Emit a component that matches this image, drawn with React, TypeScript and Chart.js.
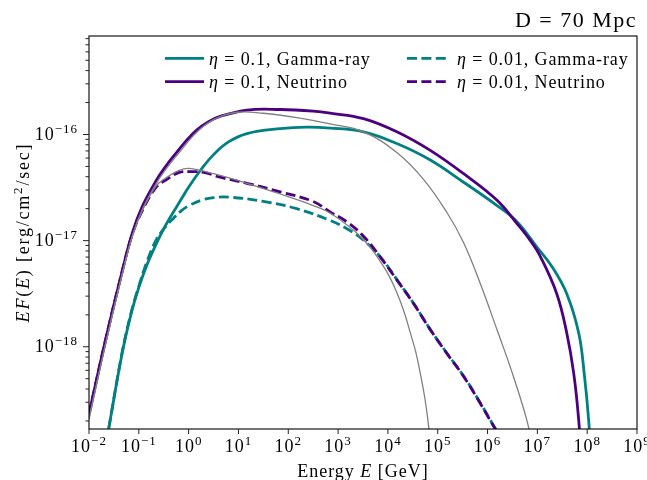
import React, { useEffect, useRef } from 'react';
import { Chart, registerables } from 'chart.js';

Chart.register(...registerables);

// ---------- data (energies in GeV, E F(E) in erg/cm^2/sec) ----------
const gammaHighE = [0.02, 0.0251, 0.0468, 0.0708, 0.1, 0.148, 0.219, 0.316, 0.468, 0.708, 1.02, 1.78, 3.16, 6.31, 14.8, 69, 229, 692, 3240, 1.51e4, 7.08e4, 3.31e5, 1.55e6, 3.89e6, 9.77e6, 2.0e7, 3.89e7, 6.76e7, 8.71e7, 1.07e8, 1.2e8];
const gammaHighF = [9.3e-20, 1.74e-19, 8.91e-19, 2.09e-18, 3.63e-18, 6.03e-18, 9.12e-18, 1.29e-17, 1.78e-17, 2.45e-17, 3.24e-17, 4.68e-17, 6.46e-17, 8.51e-17, 1.02e-16, 1.135e-16, 1.175e-16, 1.15e-16, 1.06e-16, 8.22e-17, 5.75e-17, 3.55e-17, 2.14e-17, 1.51e-17, 8.71e-18, 5.62e-18, 3.16e-18, 1.35e-18, 5.62e-19, 2.04e-19, 7.9e-20];

const nuHighE = [0.01, 0.0214, 0.0468, 0.0741, 0.117, 0.219, 0.347, 0.55, 0.891, 1.45, 2.51, 4.27, 14.8, 69, 316, 692, 3240, 1.51e4, 7.08e4, 3.31e5, 1.55e6, 3.89e6, 7.24e6, 1.15e7, 2.45e7, 3.89e7, 5.37e7, 6.76e7, 7.94e7];
const nuHighF = [2.34e-19, 1.15e-18, 5.25e-18, 1.18e-17, 2.09e-17, 3.63e-17, 5.01e-17, 6.61e-17, 8.71e-17, 1.10e-16, 1.32e-16, 1.48e-16, 1.70e-16, 1.72e-16, 1.66e-16, 1.59e-16, 1.41e-16, 1.06e-16, 7.08e-17, 4.27e-17, 2.40e-17, 1.45e-17, 1.0e-17, 7.08e-18, 3.16e-18, 1.35e-18, 5.62e-19, 2.04e-19, 6.3e-20];

const gammaLowE = [0.02, 0.0251, 0.0468, 0.0708, 0.1, 0.148, 0.219, 0.316, 0.468, 0.708, 1.02, 1.78, 3.16, 6.31, 31.6, 148, 692, 1479, 3240, 7244, 1.585e4, 3.39e4, 7.41e4, 1.585e5, 3.47e5, 7.41e5, 1.48e6, 2.63e6];
const gammaLowF = [9.3e-20, 1.74e-19, 9.12e-19, 2.14e-18, 3.72e-18, 6.46e-18, 1.0e-17, 1.29e-17, 1.58e-17, 1.91e-17, 2.14e-17, 2.40e-17, 2.54e-17, 2.57e-17, 2.34e-17, 2.0e-17, 1.55e-17, 1.30e-17, 1.01e-17, 6.92e-18, 4.17e-18, 2.51e-18, 1.41e-18, 8.51e-19, 5.13e-19, 2.88e-19, 1.66e-19, 1.10e-19];

const nuLowE = [0.01, 0.0214, 0.0468, 0.0741, 0.117, 0.219, 0.347, 0.631, 1.175, 2.14, 4.07, 14.8, 69, 316, 692, 1479, 3240, 6918, 1.51e4, 3.24e4, 7.08e4, 1.51e5, 3.31e5, 7.08e5, 1.41e6, 2.51e6];
const nuLowF = [2.34e-19, 1.15e-18, 5.25e-18, 1.15e-17, 1.91e-17, 3.16e-17, 3.72e-17, 4.37e-17, 4.47e-17, 4.37e-17, 3.98e-17, 3.47e-17, 2.88e-17, 2.34e-17, 1.86e-17, 1.51e-17, 1.10e-17, 7.08e-18, 4.27e-18, 2.57e-18, 1.45e-18, 8.71e-19, 5.25e-19, 2.95e-19, 1.70e-19, 1.12e-19];

const refHighE = [0.01, 0.0214, 0.0468, 0.0741, 0.117, 0.219, 0.347, 0.646, 1.45, 3.16, 9.33, 31.6, 148, 692, 3240, 1.51e4, 5.13e4, 1.51e5, 3.31e5, 7.08e5, 1.55e6, 3.31e6, 6.61e6, 7.94e6];
const refHighF = [2.09e-19, 1.05e-18, 4.9e-18, 1.10e-17, 1.95e-17, 3.39e-17, 4.68e-17, 6.76e-17, 1.05e-16, 1.38e-16, 1.62e-16, 1.585e-16, 1.445e-16, 1.26e-16, 1.06e-16, 6.76e-17, 3.80e-17, 1.86e-17, 9.55e-18, 3.98e-18, 1.445e-18, 5.25e-19, 1.78e-19, 1.0e-19];

const refLowE = [0.01, 0.0214, 0.0468, 0.0741, 0.117, 0.219, 0.347, 0.631, 1.02, 3.16, 14.8, 69, 316, 692, 2399, 4169, 6918, 1.05e4, 1.51e4, 2.14e4, 2.82e4, 3.63e4, 4.47e4, 5.5e4, 6.46e4, 7.24e4];
const refLowF = [2.09e-19, 1.05e-18, 4.9e-18, 1.10e-17, 1.91e-17, 3.24e-17, 3.89e-17, 4.57e-17, 4.79e-17, 4.27e-17, 3.47e-17, 2.75e-17, 2.14e-17, 1.82e-17, 1.175e-17, 8.91e-18, 6.46e-18, 4.68e-18, 3.24e-18, 2.09e-18, 1.35e-18, 8.91e-19, 5.62e-19, 3.31e-19, 1.91e-19, 1.12e-19];

const xTickExponents = [-2, -1, 0, 1, 2, 3, 4, 5, 6, 7, 8, 9];
const yTickExponents = [-18, -17, -16];
const yMinorMantissas = [2, 3, 4, 5, 6, 7, 8, 9];
const yMinorDecades = [-19, -18, -17, -16];

const legendParams = ['0.1', '0.1', '0.01', '0.01'];
const legendKinds = ['Gamma-ray', 'Neutrino', 'Gamma-ray', 'Neutrino'];
const titleText = 'D = 70 Mpc';

const X_MIN = 1e-2;
const X_MAX = 1e9;
const Y_MIN = 1.68e-19;
const Y_MAX = 8.47e-16;

const TEAL = '#008080';
const INDIGO = '#4B0082';
const GRAY = '#808080';
const FONT = '"Liberation Serif", "Times New Roman", serif';

const pts = (xs: number[], ys: number[]) => xs.map((x, i) => ({ x, y: ys[i] }));

type Seg = { t: string; italic?: boolean; size: number; dy?: number };

function segWidth(ctx: CanvasRenderingContext2D, segs: Seg[]) {
  let w = 0;
  for (const s of segs) {
    ctx.font = `${s.italic ? 'italic ' : ''}${s.size}px ${FONT}`;
    w += ctx.measureText(s.t).width;
  }
  return w;
}

function drawSegs(ctx: CanvasRenderingContext2D, segs: Seg[], x: number, y: number, align: 'left' | 'center' | 'right') {
  const w = segWidth(ctx, segs);
  let cx = align === 'left' ? x : align === 'center' ? x - w / 2 : x - w;
  ctx.textAlign = 'left';
  ctx.textBaseline = 'alphabetic';
  for (const s of segs) {
    ctx.font = `${s.italic ? 'italic ' : ''}${s.size}px ${FONT}`;
    ctx.fillText(s.t, cx, y + (s.dy || 0));
    cx += ctx.measureText(s.t).width;
  }
}

const powerSegs = (exp: number): Seg[] => [
  { t: '10', size: 18 },
  { t: (exp < 0 ? '\u2212' : '') + Math.abs(exp), size: 13, dy: -7.5 },
];

const axesPlugin = {
  id: 'mplAxes',
  afterDraw(chart: any) {
    const ctx: CanvasRenderingContext2D = chart.ctx;
    const a = chart.chartArea;
    const xs = chart.scales.x;
    const ys = chart.scales.y;
    ctx.save();
    (ctx as any).letterSpacing = '0px';
    // frame
    ctx.strokeStyle = '#000';
    ctx.lineWidth = 1.1;
    ctx.strokeRect(a.left, a.top, a.right - a.left, a.bottom - a.top);

    // ticks
    ctx.lineWidth = 1;
    ctx.strokeStyle = '#222';
    ctx.beginPath();
    for (const e of xTickExponents) {
      const px = xs.getPixelForValue(Math.pow(10, e));
      ctx.moveTo(px, a.bottom);
      ctx.lineTo(px, a.bottom + 5);
    }
    for (const e of yTickExponents) {
      const py = ys.getPixelForValue(Math.pow(10, e));
      ctx.moveTo(a.left, py);
      ctx.lineTo(a.left - 6, py);
    }
    for (const d of yMinorDecades) {
      for (const m of yMinorMantissas) {
        const v = m * Math.pow(10, d);
        if (v < Y_MIN || v > Y_MAX) continue;
        const py = ys.getPixelForValue(v);
        ctx.moveTo(a.left, py);
        ctx.lineTo(a.left - 3.5, py);
      }
    }
    ctx.stroke();

    ctx.fillStyle = '#000';
    (ctx as any).letterSpacing = '1px';
    for (const e of xTickExponents) {
      const px = xs.getPixelForValue(Math.pow(10, e));
      drawSegs(ctx, powerSegs(e), px, a.bottom + 23, 'center');
    }
    for (const e of yTickExponents) {
      const py = ys.getPixelForValue(Math.pow(10, e));
      drawSegs(ctx, powerSegs(e), a.left - 11, py + 5.7, 'right');
    }

    // x label
    drawSegs(
      ctx,
      [
        { t: 'Energy ', size: 18 },
        { t: 'E', size: 18, italic: true },
        { t: ' [GeV]', size: 18 },
      ],
      (a.left + a.right) / 2,
      477,
      'center'
    );

    // y label
    ctx.save();
    (ctx as any).letterSpacing = '1.8px';
    ctx.translate(29, (a.top + a.bottom) / 2);
    ctx.rotate(-Math.PI / 2);
    drawSegs(
      ctx,
      [
        { t: 'EF', size: 18, italic: true },
        { t: '(', size: 18 },
        { t: 'E', size: 18, italic: true },
        { t: ') [erg/cm', size: 18 },
        { t: '2', size: 13, dy: -7 },
        { t: '/sec]', size: 18 },
      ],
      0,
      0,
      'center'
    );
    ctx.restore();

    // title
    (ctx as any).letterSpacing = '1.5px';
    drawSegs(ctx, [{ t: titleText, size: 22 }], a.right, 27, 'right');

    // legend
    const colLine = [
      [165, 204],
      [407, 446],
    ];
    const colText = [209, 457];
    const rowY = [58.3, 81.7];
    const colors = [TEAL, INDIGO, TEAL, INDIGO];
    for (let i = 0; i < 4; i++) {
      const col = i < 2 ? 0 : 1;
      const row = i % 2;
      ctx.beginPath();
      ctx.strokeStyle = colors[i];
      ctx.lineWidth = 2.8;
      ctx.lineCap = 'butt';
      ctx.setLineDash(col === 1 ? [10, 4.4] : []);
      ctx.moveTo(colLine[col][0], rowY[row]);
      ctx.lineTo(colLine[col][1], rowY[row]);
      ctx.stroke();
      ctx.setLineDash([]);
      (ctx as any).letterSpacing = '0.9px';
      ctx.fillStyle = '#000';
      drawSegs(
        ctx,
        [
          { t: '\u03b7', size: 18, italic: true },
          { t: ` = ${legendParams[i]}, ${legendKinds[i]}`, size: 18 },
        ],
        colText[col],
        rowY[row] + 6.7,
        'left'
      );
    }
    ctx.restore();
  },
};

export default function App() {
  const ref = useRef<HTMLCanvasElement | null>(null);
  useEffect(() => {
    if (!ref.current) return;
    const common = { pointRadius: 0, pointHoverRadius: 0, fill: false, tension: 0.4, clip: 0 };
    const chart = new Chart(ref.current, {
      type: 'line',
      data: {
        datasets: [
          { ...common, label: 'ref high', data: pts(refHighE, refHighF), borderColor: GRAY, borderWidth: 1.3, order: 0 },
          { ...common, label: 'ref low', data: pts(refLowE, refLowF), borderColor: GRAY, borderWidth: 1.3, order: 1 },
          { ...common, label: 'η = 0.01, Neutrino', data: pts(nuLowE, nuLowF), borderColor: INDIGO, borderWidth: 2.8, borderDash: [10, 4.4], order: 2 },
          { ...common, label: 'η = 0.01, Gamma-ray', data: pts(gammaLowE, gammaLowF), borderColor: TEAL, borderWidth: 2.8, borderDash: [10, 4.4], order: 3 },
          { ...common, label: 'η = 0.1, Neutrino', data: pts(nuHighE, nuHighF), borderColor: INDIGO, borderWidth: 2.8, order: 4 },
          { ...common, label: 'η = 0.1, Gamma-ray', data: pts(gammaHighE, gammaHighF), borderColor: TEAL, borderWidth: 2.8, order: 5 },
        ] as any,
      },
      options: {
        animation: false,
        responsive: false,
        devicePixelRatio: 1,
        layout: { padding: { left: 89, top: 36, right: 10, bottom: 51 } },
        plugins: { legend: { display: false }, title: { display: false }, tooltip: { enabled: false } },
        scales: {
          x: { type: 'logarithmic', min: X_MIN, max: X_MAX, display: false },
          y: { type: 'logarithmic', min: Y_MIN, max: Y_MAX, display: false },
        },
      } as any,
      plugins: [axesPlugin],
    });
    return () => chart.destroy();
  }, []);
  return (
    <div style={{ position: 'fixed', left: 0, top: 0, width: 647, height: 480, background: '#fff' }}>
      <canvas ref={ref} width={647} height={480} style={{ display: 'block' }} />
    </div>
  );
}
